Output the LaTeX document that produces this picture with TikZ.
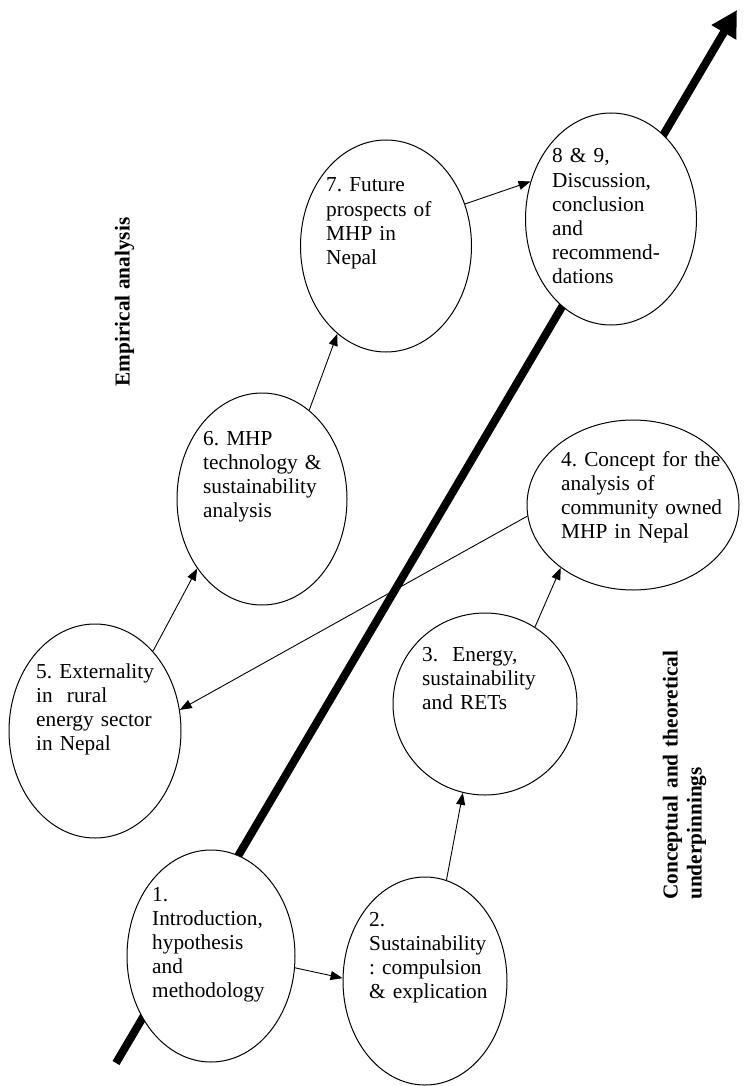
\documentclass[tikz,border=0pt]{standalone}
\usepackage{fontspec}
\setmainfont{Liberation Serif}
\usetikzlibrary{shapes.geometric,arrows.meta}
\frenchspacing
\begin{document}
\begin{tikzpicture}[x=1pt,y=-1pt,
  chapter/.style={draw, ellipse, fill=white, line width=1pt, inner sep=0pt},
  chaptext/.style={anchor=base west, text width=200pt, align=left, inner sep=0pt,
    font=\fontsize{21.3}{24.2}\selectfont\frenchspacing},
  flow/.style={line width=0.9pt, -{Triangle[length=12pt,width=9pt]}},
  part/.style={font=\bfseries\fontsize{21.3}{24.2}\selectfont, rotate=90, inner sep=0pt}]
\useasboundingbox (0,0) rectangle (752,1086);

% the progress axis running behind the chapters
\coordinate (axisstart) at (116,1063);
\coordinate (axisend) at (737,10);
\draw[line width=8pt, -{Triangle[length=26pt,width=27pt]}] (axisstart) -- (axisend);

% chapter ellipses
\node[chapter, minimum width=168pt, minimum height=212pt] (c1) at (211,956) {};
\node[chapter, minimum width=164pt, minimum height=208pt] (c2) at (425,981) {};
\node[chapter, minimum width=184pt, minimum height=182pt] (c3) at (485,704) {};
\node[chapter, minimum width=212pt, minimum height=170pt] (c4) at (633,505) {};
\node[chapter, minimum width=172pt, minimum height=214pt] (c5) at (95,731) {};
\node[chapter, minimum width=170pt, minimum height=212pt] (c6) at (262,499) {};
\node[chapter, minimum width=171pt, minimum height=212pt] (c7) at (386,246) {};
\node[chapter, minimum width=171pt, minimum height=212pt] (c8) at (611,219) {};

% chapter titles
\node[chaptext] (t1) at (152,901) {1.\\Introduction,\\hypothesis\\and\\methodology};
\node[chaptext] (t2) at (369,926) {2.\\Sustainability\\: compulsion\\\& explication};
\node[chaptext] (t3) at (422,661) {3.\ \ Energy,\\sustainability\\and RETs};
\node[chaptext] (t4) at (561,466) {4. Concept for the\\analysis of\\community owned\\MHP in Nepal};
\node[chaptext] (t5) at (36,678) {5. Externality\\in\ \ rural\\energy sector\\in Nepal};
\node[chaptext] (t6) at (203,445) {6. MHP\\technology \&\\sustainability\\analysis};
\node[chaptext] (t7) at (326,192) {7. Future\\prospects of\\MHP in\\Nepal};
\node[chaptext] (t8) at (552,163) {8 \& 9,\\Discussion,\\conclusion\\and\\recommend-\\dations};

% reading order
\draw[flow] (c1.-8) -- (c2.178);
\draw[flow] (c2.78) -- (c3.256.6);
\draw[flow] (c3.57.7) -- (c4.221.6);
\draw[flow] (c4.186.5) -- (c5.14.8);
\draw[flow] (c5.54) -- (c6.227);
\draw[flow] (c6.62.7) -- (c7.241.5);
\draw[flow] (c7.28.6) -- (c8.155.1);

% part labels
\node[part, anchor=base] (emp) at (129.5,302) {Empirical analysis};
\node[part, anchor=base west, text width=300pt, align=left] (con) at (677.5,900)
  {Conceptual and theoretical\\underpinnings};
\end{tikzpicture}
\end{document}
